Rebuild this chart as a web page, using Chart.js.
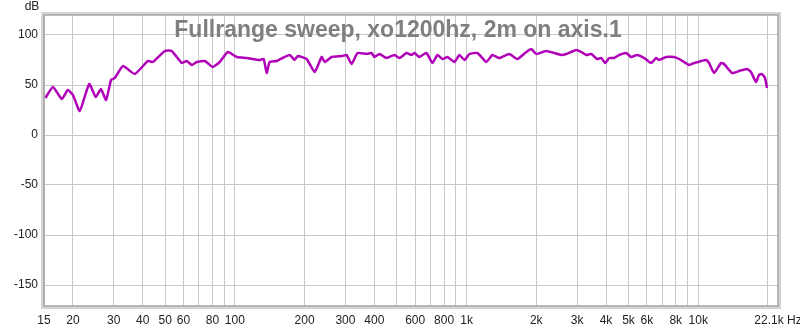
<!DOCTYPE html>
<html>
<head>
<meta charset="utf-8">
<script src="https://cdn.jsdelivr.net/npm/chart.js@4.4.0/dist/chart.umd.min.js"></script>
<style>
  html, body { margin: 0; padding: 0; background: #fff; }
  canvas { display: block; }
</style>
</head>
<body>
<canvas id="myChart" width="800" height="330"></canvas>
<script>
// measured response, Hz / dB
const freqs = [
  15.2, 16.4, 17.9, 19.0, 20.0, 21.4, 23.5, 25.1, 26.4, 27.8, 29.2, 30.3, 32.9, 37.0, 42.1, 44.2, 49.9, 53.4,
  59.0, 62.0, 65.2, 68.5, 74.2, 80.3, 86.0, 93.2, 101.9, 112.5, 128, 133.2, 137.2, 141.3, 151.5, 160.8, 172.4,
  181.1, 186.6, 204, 221, 237, 244, 261.6, 291.6, 303.5, 319, 338.4, 370.2, 389, 400.6, 421, 451, 488.7, 513.5,
  550.7, 578.6, 596, 626, 671.4, 712.4, 748.7, 787, 827, 887, 932, 979, 1029, 1114, 1218, 1292, 1385, 1530,
  1657, 1811, 1903, 2000, 2209, 2392, 2564, 2694, 2975, 3128, 3286, 3453, 3664, 3814, 3967, 4129, 4338, 4559,
  4887, 5136, 5451, 5843, 6264, 6582, 6782, 7267, 7869, 8270, 8690, 9133, 9597, 9986, 10287, 10811, 11137,
  11705, 12546, 12924, 13993, 15000, 16240, 16899, 17761, 18296, 18848, 19420, 19810
];
const levels = [
  37, 48, 36, 45, 40, 24, 51, 38, 46, 35, 55, 57, 69, 61, 74, 73, 84, 84,
  72, 74, 70, 73, 74, 68, 73, 83, 78, 77, 75, 76, 62, 73, 74, 77, 80,
  75, 79, 76, 63, 78, 73, 78, 79, 80, 71, 82, 81, 82, 78, 81, 77, 80, 77,
  82, 80, 82, 78, 82, 72, 80, 76, 78, 73, 80, 75, 81, 82, 73, 80, 77, 81,
  76, 83, 86, 81, 84, 82, 80, 81, 85, 83, 80, 81, 76, 77, 72, 77, 77, 80,
  82, 78, 80, 77, 72, 77, 75, 78, 78, 76, 73, 70, 72, 73, 74, 75, 72,
  62, 72, 71, 62, 64, 66, 63, 53, 60, 61, 57, 47
];

const gridFreqs = [15, 20, 30, 40, 50, 60, 70, 80, 90, 100, 200, 300, 400, 500, 600, 700, 800, 900,
  1000, 2000, 3000, 4000, 5000, 6000, 7000, 8000, 9000, 10000, 20000, 22100];
const freqLabels = ['15', '20', '30', '40', '50', '60', '', '80', '', '100', '200', '300', '400', '', '600', '', '800', '',
  '1k', '2k', '3k', '4k', '5k', '6k', '', '8k', '', '10k', '', '22.1k Hz'];
const dbTicks = [-150, -100, -50, 0, 50, 100];

const chartTitle = 'Fullrange sweep, xo1200hz, 2m on axis.1';

// no label overhang, keeps the plot box where it is
const noPad = scale => {
    scale.paddingLeft = 0;
    scale.paddingRight = 0;
    scale.paddingTop = 0;
    scale.paddingBottom = 0;
};

const frame = {
    id: 'frame',
    afterDraw(chart) {
        const { ctx, chartArea: a } = chart;
        ctx.save();
        ctx.strokeStyle = '#d4d4d4';
        ctx.lineWidth = 3;
        ctx.strokeRect(a.left - 1.5, a.top - 1.5, a.right - a.left + 3, a.bottom - a.top + 3);
        ctx.strokeStyle = '#a6a6a6';
        ctx.lineWidth = 1.5;
        ctx.strokeRect(a.left, a.top, a.right - a.left, a.bottom - a.top);

        ctx.fillStyle = '#222';
        ctx.font = '12px Arial, "Liberation Sans", sans-serif';
        ctx.textAlign = 'center';
        ctx.textBaseline = 'middle';
        ctx.fillText('dB', a.left - 12, a.top - 8);

        ctx.fillStyle = '#7f7f7f';
        ctx.font = 'bold 23px Arial, "Liberation Sans", sans-serif';
        ctx.textBaseline = 'alphabetic';
        ctx.fillText(chartTitle, 398, 37);
        ctx.restore();
    }
};

const ctx = document.getElementById('myChart');

const myChart = new Chart(ctx, {
    type: 'line',
    data: {
        datasets: [{
            data: freqs.map((f, i) => ({ x: f, y: levels[i] })),
            borderColor: '#b000b8',
            borderWidth: 2.5,
            pointRadius: 0,
            tension: 0.15
        }]
    },
    options: {
        responsive: false,
        animation: false,
        layout: { padding: { top: 15, right: 22, left: 0, bottom: 0 } },
        plugins: {
            legend: { display: false },
            tooltip: { enabled: false }
        },
        scales: {
            x: {
                type: 'logarithmic',
                min: 15,
                max: 22100,
                afterBuildTicks: scale => { scale.ticks = gridFreqs.map(v => ({ value: v })); },
                afterFit: scale => { scale.height = 24; noPad(scale); },
                ticks: {
                    autoSkip: false,
                    maxRotation: 0,
                    padding: 7,
                    color: '#222',
                    font: { family: 'Arial, "Liberation Sans", sans-serif', size: 12 },
                    callback: (value, index) => freqLabels[index]
                },
                grid: { color: '#c8c8c8', drawTicks: false },
                border: { display: false }
            },
            y: {
                min: -171,
                max: 120,
                afterBuildTicks: scale => { scale.ticks = dbTicks.map(v => ({ value: v })); },
                afterFit: scale => { scale.width = 44; noPad(scale); },
                ticks: {
                    padding: 6,
                    color: '#222',
                    font: { family: 'Arial, "Liberation Sans", sans-serif', size: 12 },
                    callback: value => value
                },
                grid: { color: '#c8c8c8', drawTicks: false },
                border: { display: false }
            }
        }
    },
    plugins: [frame]
});
</script>
</body>
</html>
